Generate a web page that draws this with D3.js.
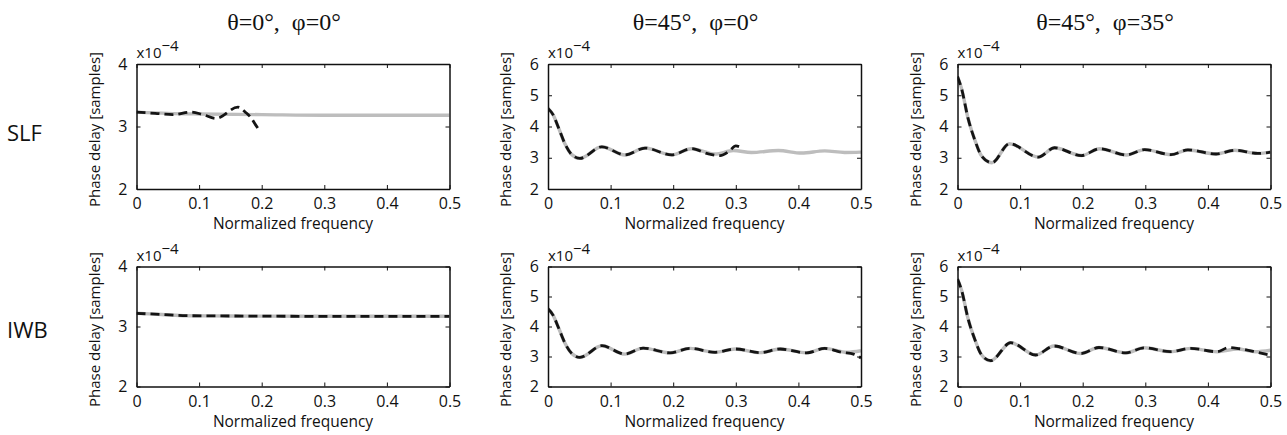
<!DOCTYPE html>
<html>
<head>
<meta charset="utf-8">
<script src="https://cdn.jsdelivr.net/npm/d3@7"></script>
<style>
  html, body { margin: 0; padding: 0; background: #fff; }
  svg { display: block; }
  text { font-family: "Open Sans", "Noto Sans", sans-serif; fill: #111; }
  .title { font-family: "Liberation Serif", "DejaVu Serif", serif; white-space: pre; }
</style>
</head>
<body>
<svg id="chart" width="1287" height="435"></svg>
<script>
// ---------------- data ----------------
const rowLabels = ["SLF", "IWB"];
const colTitles = ["θ=0°,  φ=0°", "θ=45°,  φ=0°", "θ=45°,  φ=35°"];
const xTicks = [0, 0.1, 0.2, 0.3, 0.4, 0.5];
const xTickLabels = ["0", "0.1", "0.2", "0.3", "0.4", "0.5"];
const yTicksNarrow = [2, 3, 4];
const yTicksWide = [2, 3, 4, 5, 6];
const xLabel = "Normalized frequency";
const yLabel = "Phase delay [samples]";
const yExponent = "-4";

// values are in units of 1e-4 samples; [normalized frequency, phase delay]
const slf_0_0_gray = [[0,3.23],[0.05,3.21],[0.1,3.20],[0.2,3.19],[0.3,3.18],[0.4,3.18],[0.5,3.18]];
const slf_0_0_black = [[0,3.23],[0.03,3.21],[0.058,3.19],[0.087,3.23],[0.106,3.19],[0.127,3.13],[0.162,3.31],[0.175,3.22],[0.183,3.14],[0.19,3.03],[0.198,2.91]];

const slf_45_0_gray = [[0,4.58],[0.008,4.38],[0.017,3.95],[0.027,3.45],[0.038,3.10],[0.051,2.98],[0.086,3.35],[0.123,3.09],[0.155,3.31],[0.198,3.09],[0.229,3.29],[0.267,3.12],[0.296,3.23],[0.325,3.17],[0.368,3.23],[0.405,3.15],[0.442,3.22],[0.474,3.17],[0.5,3.18]];
const slf_45_0_black = [[0,4.58],[0.008,4.38],[0.017,3.95],[0.027,3.45],[0.038,3.10],[0.051,2.98],[0.086,3.35],[0.123,3.09],[0.155,3.31],[0.198,3.09],[0.229,3.29],[0.255,3.13],[0.275,3.07],[0.29,3.22],[0.3,3.38],[0.306,3.35]];

const slf_45_35_gray = [[0,5.60],[0.0064,5.22],[0.017,4.25],[0.028,3.55],[0.038,3.07],[0.055,2.84],[0.083,3.45],[0.129,3.02],[0.155,3.32],[0.198,3.07],[0.227,3.29],[0.27,3.09],[0.299,3.26],[0.341,3.10],[0.368,3.25],[0.413,3.12],[0.443,3.24],[0.48,3.14],[0.5,3.18]];
const slf_45_35_black = [[0,5.60],[0.0064,5.22],[0.017,4.25],[0.028,3.55],[0.038,3.07],[0.055,2.84],[0.083,3.45],[0.129,3.02],[0.155,3.32],[0.198,3.07],[0.227,3.29],[0.27,3.09],[0.299,3.26],[0.341,3.10],[0.368,3.25],[0.413,3.12],[0.443,3.24],[0.48,3.14],[0.5,3.18]];

const iwb_0_0_gray = [[0,3.22],[0.04,3.20],[0.08,3.18],[0.15,3.175],[0.3,3.17],[0.5,3.17]];
const iwb_0_0_black = [[0,3.22],[0.04,3.20],[0.08,3.18],[0.15,3.175],[0.3,3.17],[0.5,3.17]];

const iwb_45_0_gray = [[0,4.59],[0.008,4.38],[0.017,3.95],[0.027,3.45],[0.038,3.10],[0.051,2.97],[0.086,3.36],[0.123,3.08],[0.152,3.28],[0.195,3.12],[0.227,3.27],[0.267,3.14],[0.299,3.25],[0.339,3.13],[0.371,3.25],[0.413,3.12],[0.442,3.27],[0.478,3.14],[0.5,3.19]];
const iwb_45_0_black = [[0,4.59],[0.008,4.38],[0.017,3.95],[0.027,3.45],[0.038,3.10],[0.051,2.97],[0.086,3.36],[0.123,3.08],[0.152,3.28],[0.195,3.12],[0.227,3.27],[0.267,3.14],[0.299,3.25],[0.339,3.13],[0.371,3.25],[0.413,3.12],[0.442,3.27],[0.47,3.14],[0.488,3.08],[0.5,2.95]];

const iwb_45_35_gray = [[0,5.58],[0.0064,5.22],[0.017,4.25],[0.028,3.55],[0.038,3.07],[0.053,2.86],[0.085,3.46],[0.125,3.05],[0.154,3.35],[0.197,3.10],[0.226,3.30],[0.269,3.12],[0.298,3.29],[0.34,3.16],[0.372,3.27],[0.415,3.16],[0.447,3.25],[0.476,3.16],[0.5,3.21]];
const iwb_45_35_black = [[0,5.58],[0.0064,5.22],[0.017,4.25],[0.028,3.55],[0.038,3.07],[0.053,2.86],[0.085,3.46],[0.125,3.05],[0.154,3.35],[0.197,3.10],[0.226,3.30],[0.269,3.12],[0.298,3.29],[0.34,3.16],[0.372,3.27],[0.415,3.16],[0.433,3.30],[0.45,3.26],[0.475,3.16],[0.5,3.04]];

const panels = [
  { row: 0, col: 0, yDomain: [2, 4], yTicks: yTicksNarrow, gray: slf_0_0_gray, black: slf_0_0_black },
  { row: 0, col: 1, yDomain: [2, 6], yTicks: yTicksWide, gray: slf_45_0_gray, black: slf_45_0_black },
  { row: 0, col: 2, yDomain: [2, 6], yTicks: yTicksWide, gray: slf_45_35_gray, black: slf_45_35_black },
  { row: 1, col: 0, yDomain: [2, 4], yTicks: yTicksNarrow, gray: iwb_0_0_gray, black: iwb_0_0_black },
  { row: 1, col: 1, yDomain: [2, 6], yTicks: yTicksWide, gray: iwb_45_0_gray, black: iwb_45_0_black },
  { row: 1, col: 2, yDomain: [2, 6], yTicks: yTicksWide, gray: iwb_45_35_gray, black: iwb_45_35_black }
];

// ---------------- layout ----------------
const colLeft = [136.5, 548, 957.5];
const rowTop = [64, 266.5];
const rowH = [125, 120];
const plotW = 313;
const rowLabelBaseline = [141, 338];
const titleBaseline = 30;

const svg = d3.select("#chart");

// row labels
rowLabels.forEach((t, i) => {
  svg.append("text").attr("x", 7).attr("y", rowLabelBaseline[i])
    .style("font-size", "22px").text(t);
});

// column titles
colTitles.forEach((t, i) => {
  svg.append("text").attr("class", "title")
    .attr("x", colLeft[i] + plotW / 2 - 9).attr("y", titleBaseline)
    .attr("text-anchor", "middle").style("font-size", "24px").text(t);
});

panels.forEach((p, idx) => {
  const h = rowH[p.row];
  const g = svg.append("g").attr("transform", `translate(${colLeft[p.col]},${rowTop[p.row]})`);
  const x = d3.scaleLinear().domain([0, 0.5]).range([0, plotW]);
  const y = d3.scaleLinear().domain(p.yDomain).range([h, 0]);

  const clipId = "clip" + idx;
  g.append("clipPath").attr("id", clipId).append("rect")
    .attr("x", 0).attr("y", 0).attr("width", plotW).attr("height", h);

  const line = d3.line().x(d => x(d[0])).y(d => y(d[1])).curve(d3.curveMonotoneX);

  const lines = g.append("g").attr("clip-path", `url(#${clipId})`);
  lines.append("path").datum(p.gray).attr("d", line)
    .attr("fill", "none").attr("stroke", "#bdbdbd").attr("stroke-width", 3.4)
    .attr("stroke-linejoin", "round");
  lines.append("path").datum(p.black).attr("d", line)
    .attr("fill", "none").attr("stroke", "#141414").attr("stroke-width", 2.8)
    .attr("stroke-dasharray", "9,5");

  const fmt = (d) => xTickLabels[xTicks.indexOf(d)];
  const axB = g.append("g").attr("transform", `translate(0,${h})`)
    .call(d3.axisBottom(x).tickValues(xTicks).tickFormat(fmt).tickSizeInner(-4).tickSizeOuter(0).tickPadding(9));
  const axT = g.append("g")
    .call(d3.axisTop(x).tickValues(xTicks).tickFormat("").tickSizeInner(-4).tickSizeOuter(0));
  const axL = g.append("g")
    .call(d3.axisLeft(y).tickValues(p.yTicks).tickFormat(d3.format("d")).tickSizeInner(-4).tickSizeOuter(0).tickPadding(9));
  const axR = g.append("g").attr("transform", `translate(${plotW},0)`)
    .call(d3.axisRight(y).tickValues(p.yTicks).tickFormat("").tickSizeInner(-4).tickSizeOuter(0));

  [axB, axT, axL, axR].forEach(a => {
    a.select(".domain").attr("stroke", "#111").attr("stroke-width", 1.5);
    a.selectAll(".tick line").attr("stroke", "#111").attr("stroke-width", 1);
    a.selectAll("text").style("font-size", "16px").style("font-family", '"Open Sans", sans-serif').attr("fill", "#111");
  });

  // exponent label
  const ex = g.append("text").attr("x", 0).attr("y", -6).style("font-size", "15px");
  ex.append("tspan").text("x10");
  ex.append("tspan").attr("dy", -7).style("font-size", "15px").text(yExponent.replace("-", "\u2212"));

  // axis labels
  g.append("text").attr("x", plotW / 2).attr("y", h + 40)
    .attr("text-anchor", "middle").style("font-size", "15.5px").text(xLabel);
  g.append("text").attr("transform", `translate(-37,${h / 2 + 3}) rotate(-90)`)
    .attr("text-anchor", "middle").style("font-size", "15px").text(yLabel);
});
</script>
</body>
</html>
